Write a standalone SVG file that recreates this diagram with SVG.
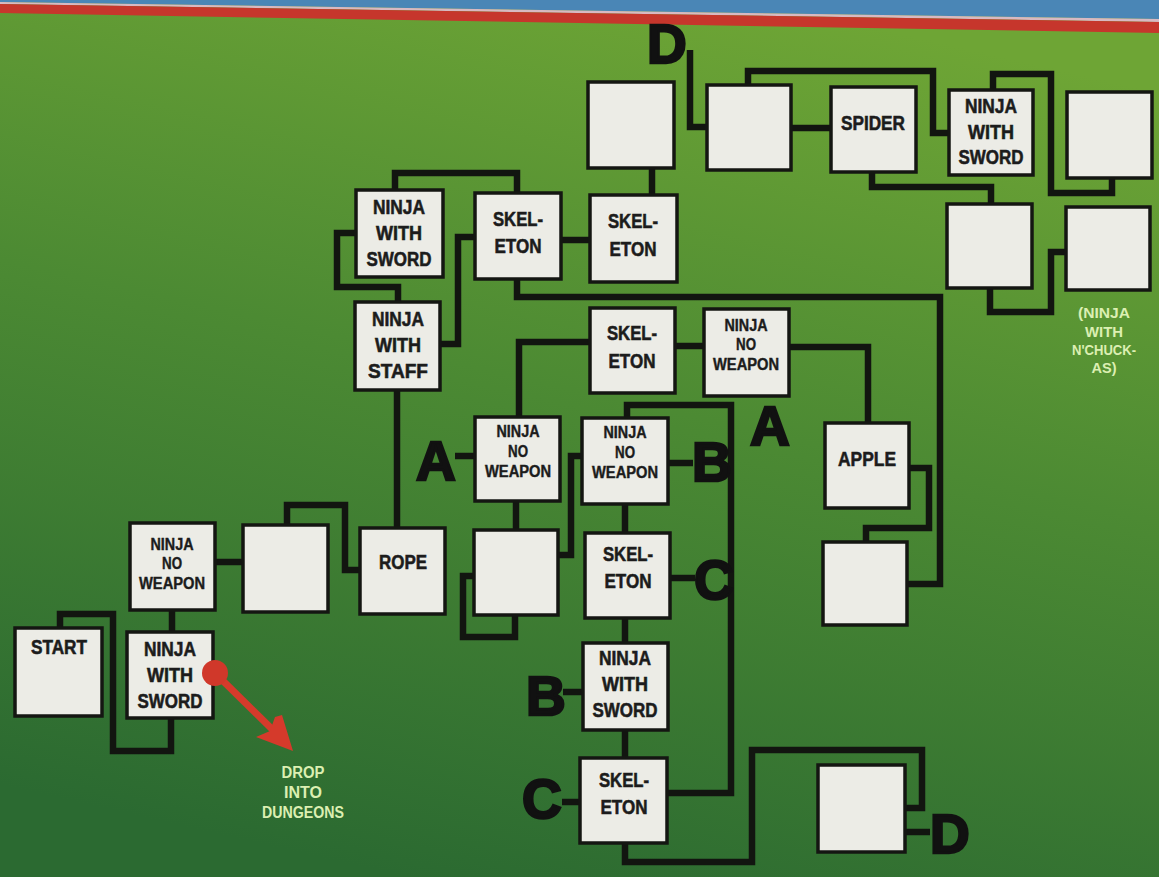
<svg xmlns="http://www.w3.org/2000/svg" width="1159" height="877" viewBox="0 0 1159 877">
<defs>
<linearGradient id="bg" x1="0.65" y1="0" x2="0.35" y2="1">
<stop offset="0" stop-color="#6ea535"/>
<stop offset="0.45" stop-color="#4c8a33"/>
<stop offset="1" stop-color="#2b6a31"/>
</linearGradient>
<style>
.box{fill:#ecece6;stroke:#141612;stroke-width:3.5}
.c{fill:none;stroke:#121510;stroke-width:6.5;stroke-linejoin:miter}
.t{font-family:"Liberation Sans",Arial,sans-serif;font-weight:bold;fill:#1c1c1c;stroke:#1c1c1c;stroke-width:0.6;text-anchor:middle;font-size:21px}
.s{font-size:16px;stroke-width:0.4}
.L{font-family:"Liberation Sans",Arial,sans-serif;font-weight:bold;font-size:55px;fill:#111;stroke:#111;stroke-width:2.5}
.g{font-family:"Liberation Sans",Arial,sans-serif;font-weight:bold;fill:#dcefb2;text-anchor:middle;font-size:15px}
.d{font-size:16px}
</style>
</defs>
<rect x="0" y="0" width="1159" height="877" fill="url(#bg)"/>
<polygon points="0,0 1159,0 1159,19 0,2" fill="#4a86b6"/>
<polygon points="0,2 1159,19 1159,22 0,4" fill="#d8b9c2"/>
<polygon points="0,4 1159,22 1159,33 0,13" fill="#c6362c"/>

<g id="connectors">
<path class="c" d="M60,628 V614 H113 V751 H171 V718"/>
<path class="c" d="M172,610 V632"/>
<path class="c" d="M215,562 H243"/>
<path class="c" d="M287,525 V505 H345 V570 H360"/>
<path class="c" d="M397,390 V528"/>
<path class="c" d="M398,302 V287 H337 V233 H356"/>
<path class="c" d="M395,190 V173 H517 V193"/>
<path class="c" d="M440,344 H458 V237 H475"/>
<path class="c" d="M561,240 H590"/>
<path class="c" d="M652,168 V195"/>
<path class="c" d="M517,279 V297 H940 V584 H907"/>
<path class="c" d="M590,342 H519 V417"/>
<path class="c" d="M675,346 H704"/>
<path class="c" d="M789,347 H868 V423"/>
<path class="c" d="M909,468 H929 V528 H866 V542"/>
<path class="c" d="M516,501 V530"/>
<path class="c" d="M558,555 H571 V456 H582"/>
<path class="c" d="M474,576 H463 V637 H515 V615"/>
<path class="c" d="M627,418 V405 H731 V793 H667"/>
<path class="c" d="M625,504 V533"/>
<path class="c" d="M625,618 V643"/>
<path class="c" d="M625,730 V758"/>
<path class="c" d="M625,843 V862 H752 V750 H922 V808 H905"/>
<path class="c" d="M690,50 V127 H707"/>
<path class="c" d="M791,128 H831"/>
<path class="c" d="M748,85 V71 H933 V133 H949"/>
<path class="c" d="M993,90 V74 H1051 V193 H1112 V178"/>
<path class="c" d="M872,172 V187 H991 V204"/>
<path class="c" d="M990,288 V312 H1051 V252 H1066"/>
<path class="c" d="M455,456 H475"/>
<path class="c" d="M668,463 H693"/>
<path class="c" d="M670,578 H695"/>
<path class="c" d="M563,692 H583"/>
<path class="c" d="M562,802 H580"/>
<path class="c" d="M905,832 H930"/>
</g>

<g id="n_start"><rect class="box" x="15" y="628" width="87" height="88"/><text class="t" x="59" y="654" textLength="56" lengthAdjust="spacingAndGlyphs">START</text></g>
<g id="n_nws1"><rect class="box" x="127" y="632" width="86" height="86"/><text class="t" x="170" y="656" textLength="52" lengthAdjust="spacingAndGlyphs">NINJA</text><text class="t" x="170" y="682" textLength="46" lengthAdjust="spacingAndGlyphs">WITH</text><text class="t" x="170" y="708" textLength="65" lengthAdjust="spacingAndGlyphs">SWORD</text></g>
<g id="n_nnw1"><rect class="box" x="130" y="523" width="85" height="87"/><text class="t s" x="172" y="550" textLength="43" lengthAdjust="spacingAndGlyphs">NINJA</text><text class="t s" x="172" y="569" textLength="20" lengthAdjust="spacingAndGlyphs">NO</text><text class="t s" x="172" y="589" textLength="66" lengthAdjust="spacingAndGlyphs">WEAPON</text></g>
<g id="n_e1"><rect class="box" x="243" y="525" width="85" height="87"/></g>
<g id="n_rope"><rect class="box" x="360" y="528" width="85" height="86"/><text class="t" x="403" y="569" textLength="48" lengthAdjust="spacingAndGlyphs">ROPE</text></g>
<g id="n_staff"><rect class="box" x="355" y="302" width="85" height="88"/><text class="t" x="398" y="326" textLength="52" lengthAdjust="spacingAndGlyphs">NINJA</text><text class="t" x="398" y="352" textLength="46" lengthAdjust="spacingAndGlyphs">WITH</text><text class="t" x="398" y="378" textLength="60" lengthAdjust="spacingAndGlyphs">STAFF</text></g>
<g id="n_nws2"><rect class="box" x="356" y="190" width="87" height="87"/><text class="t" x="399" y="214" textLength="52" lengthAdjust="spacingAndGlyphs">NINJA</text><text class="t" x="399" y="240" textLength="46" lengthAdjust="spacingAndGlyphs">WITH</text><text class="t" x="399" y="266" textLength="65" lengthAdjust="spacingAndGlyphs">SWORD</text></g>
<g id="n_sk1"><rect class="box" x="475" y="193" width="86" height="86"/><text class="t" x="518" y="226" textLength="50" lengthAdjust="spacingAndGlyphs">SKEL-</text><text class="t" x="518" y="253" textLength="47" lengthAdjust="spacingAndGlyphs">ETON</text></g>
<g id="n_sk2"><rect class="box" x="590" y="195" width="87" height="87"/><text class="t" x="633" y="228" textLength="50" lengthAdjust="spacingAndGlyphs">SKEL-</text><text class="t" x="633" y="256" textLength="47" lengthAdjust="spacingAndGlyphs">ETON</text></g>
<g id="n_e2"><rect class="box" x="588" y="82" width="86" height="86"/></g>
<g id="n_sk3"><rect class="box" x="590" y="308" width="85" height="85"/><text class="t" x="632" y="340" textLength="50" lengthAdjust="spacingAndGlyphs">SKEL-</text><text class="t" x="632" y="368" textLength="47" lengthAdjust="spacingAndGlyphs">ETON</text></g>
<g id="n_nnw2"><rect class="box" x="704" y="309" width="85" height="87"/><text class="t s" x="746" y="331" textLength="43" lengthAdjust="spacingAndGlyphs">NINJA</text><text class="t s" x="746" y="350" textLength="20" lengthAdjust="spacingAndGlyphs">NO</text><text class="t s" x="746" y="370" textLength="66" lengthAdjust="spacingAndGlyphs">WEAPON</text></g>
<g id="n_e3"><rect class="box" x="707" y="85" width="84" height="85"/></g>
<g id="n_spider"><rect class="box" x="831" y="87" width="85" height="85"/><text class="t" x="873" y="130" textLength="64" lengthAdjust="spacingAndGlyphs">SPIDER</text></g>
<g id="n_nws3"><rect class="box" x="949" y="90" width="84" height="85"/><text class="t" x="991" y="113" textLength="52" lengthAdjust="spacingAndGlyphs">NINJA</text><text class="t" x="991" y="139" textLength="46" lengthAdjust="spacingAndGlyphs">WITH</text><text class="t" x="991" y="164" textLength="65" lengthAdjust="spacingAndGlyphs">SWORD</text></g>
<g id="n_e4"><rect class="box" x="1067" y="92" width="85" height="86"/></g>
<g id="n_e5"><rect class="box" x="947" y="204" width="85" height="84"/></g>
<g id="n_e6"><rect class="box" x="1066" y="207" width="84" height="83"/><text class="g" x="1104" y="318" textLength="52" lengthAdjust="spacingAndGlyphs">(NINJA</text><text class="g" x="1104" y="337" textLength="38" lengthAdjust="spacingAndGlyphs">WITH</text><text class="g" x="1104" y="355" textLength="64" lengthAdjust="spacingAndGlyphs">N'CHUCK-</text><text class="g" x="1104" y="373" textLength="25" lengthAdjust="spacingAndGlyphs">AS)</text></g>
<g id="n_nnwA"><rect class="box" x="475" y="417" width="85" height="84"/><text class="t s" x="518" y="437" textLength="43" lengthAdjust="spacingAndGlyphs">NINJA</text><text class="t s" x="518" y="457" textLength="20" lengthAdjust="spacingAndGlyphs">NO</text><text class="t s" x="518" y="477" textLength="66" lengthAdjust="spacingAndGlyphs">WEAPON</text></g>
<g id="n_nnwB"><rect class="box" x="582" y="418" width="86" height="86"/><text class="t s" x="625" y="438" textLength="43" lengthAdjust="spacingAndGlyphs">NINJA</text><text class="t s" x="625" y="458" textLength="20" lengthAdjust="spacingAndGlyphs">NO</text><text class="t s" x="625" y="478" textLength="66" lengthAdjust="spacingAndGlyphs">WEAPON</text></g>
<g id="n_e7"><rect class="box" x="474" y="530" width="84" height="85"/></g>
<g id="n_skC"><rect class="box" x="585" y="533" width="85" height="85"/><text class="t" x="628" y="561" textLength="50" lengthAdjust="spacingAndGlyphs">SKEL-</text><text class="t" x="628" y="588" textLength="47" lengthAdjust="spacingAndGlyphs">ETON</text></g>
<g id="n_nwsB"><rect class="box" x="583" y="643" width="85" height="87"/><text class="t" x="625" y="665" textLength="52" lengthAdjust="spacingAndGlyphs">NINJA</text><text class="t" x="625" y="691" textLength="46" lengthAdjust="spacingAndGlyphs">WITH</text><text class="t" x="625" y="717" textLength="65" lengthAdjust="spacingAndGlyphs">SWORD</text></g>
<g id="n_skBot"><rect class="box" x="580" y="758" width="87" height="85"/><text class="t" x="624" y="787" textLength="50" lengthAdjust="spacingAndGlyphs">SKEL-</text><text class="t" x="624" y="814" textLength="47" lengthAdjust="spacingAndGlyphs">ETON</text></g>
<g id="n_e8"><rect class="box" x="818" y="765" width="87" height="87"/></g>
<g id="n_apple"><rect class="box" x="825" y="423" width="84" height="85"/><text class="t" x="867" y="466" textLength="58" lengthAdjust="spacingAndGlyphs">APPLE</text></g>
<g id="n_e9"><rect class="box" x="823" y="542" width="84" height="83"/></g>

<g id="letters">
<text class="L" x="647" y="63">D</text>
<text class="L" x="416" y="480">A</text>
<text class="L" x="750" y="445">A</text>
<text class="L" x="692" y="481">B</text>
<text class="L" x="694" y="599">C</text>
<text class="L" x="526" y="715">B</text>
<text class="L" x="522" y="818">C</text>
<text class="L" x="930" y="853">D</text>
</g>

<g id="drop">
<line x1="215" y1="673" x2="276" y2="733" stroke="#d53a2b" stroke-width="7"/>
<polygon points="293,751 256,737 270,731 275,717 282,715" fill="#d53a2b"/>
<circle cx="215" cy="673" r="13" fill="#d0382a"/>
<text class="g d" x="303" y="778" textLength="43" lengthAdjust="spacingAndGlyphs">DROP</text>
<text class="g d" x="303" y="798" textLength="38" lengthAdjust="spacingAndGlyphs">INTO</text>
<text class="g d" x="303" y="818" textLength="82" lengthAdjust="spacingAndGlyphs">DUNGEONS</text>
</g>
</svg>
